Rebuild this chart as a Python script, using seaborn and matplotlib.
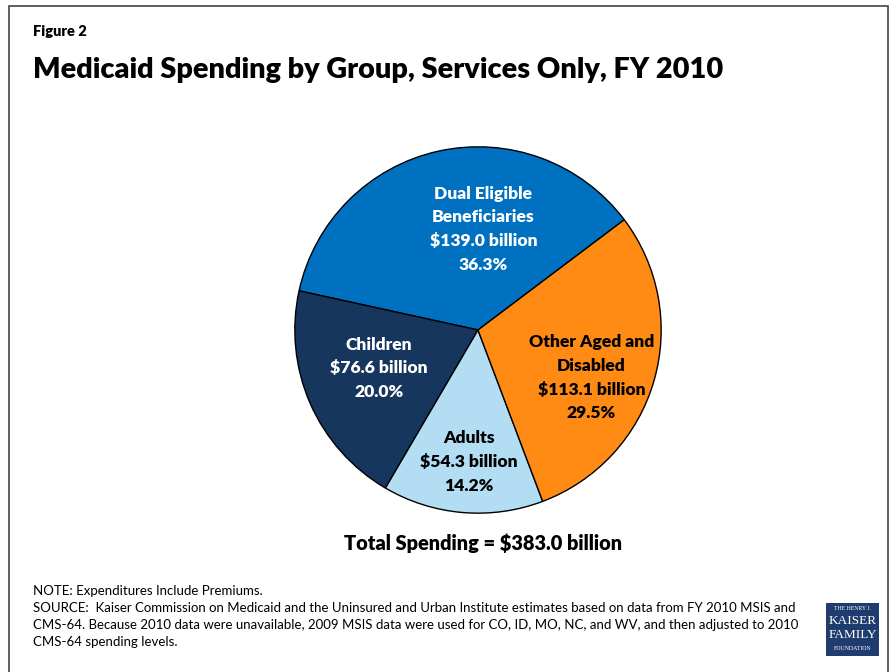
import matplotlib
matplotlib.use("Agg")
import matplotlib.pyplot as plt
from matplotlib.patches import Rectangle
import seaborn as sns

sns.set_theme(style="white")
plt.rcParams["font.family"] = ["Lato", "DejaVu Sans"]
plt.rcParams["text.color"] = "black"

# Spending by eligibility group, FY 2010 (billions of dollars)
groups = ["Dual Eligible\nBeneficiaries", "Children", "Adults", "Other Aged and\nDisabled"]
spending = [139.0, 76.6, 54.3, 113.1]
colors = ["#0070C0", "#17365D", "#B2DDF2", "#FF8A14"]
text_colors = ["white", "white", "black", "black"]
total = 383.0

notes = [
    "NOTE: Expenditures Include Premiums.",
    "SOURCE:  Kaiser Commission on Medicaid and the Uninsured and Urban Institute estimates based on data from FY 2010 MSIS and",
    "CMS-64. Because 2010 data were unavailable, 2009 MSIS data were used for CO, ID, MO, NC, and WV, and then adjusted to 2010",
    "CMS-64 spending levels.",
]

W, H = 891, 672
fig = plt.figure(figsize=(W / 100, H / 100), dpi=100)

# outer frame of the figure panel
fig.add_artist(Rectangle((9 / W, -0.01), (888 - 9) / W, (H - 6) / H + 0.01,
                         transform=fig.transFigure, fill=False,
                         edgecolor="#444444", linewidth=1.2))

fig.text(33 / W, 1 - 32 / H, "Figure 2", fontsize=10.5, fontweight="heavy",
         ha="left", va="center")
fig.text(33 / W, 1 - 70 / H, "Medicaid Spending by Group, Services Only, FY 2010",
         fontsize=20.8, fontweight="heavy", ha="left", va="center")

# pie axes: centre (478, 330) px, radius 185 px
cx, cy, r = 478, 330, 185
ax = fig.add_axes([(cx - r) / W, (H - cy - r) / H, 2 * r / W, 2 * r / H])
wedges, _ = ax.pie(spending, colors=colors, startangle=37, counterclock=True,
                   radius=1.0,
                   wedgeprops=dict(edgecolor="black", linewidth=1.0))
ax.set_xlim(-1.01, 1.01)
ax.set_ylim(-1.01, 1.01)
ax.set_aspect("equal")
ax.axis("off")

label_pos = [(0.03, 0.55), (-0.54, -0.21), (-0.05, -0.72), (0.62, -0.26)]
for name, val, (lx, ly), tc in zip(groups, spending, label_pos, text_colors):
    pct = val / total * 100
    ax.text(lx, ly, f"{name}\n${val:.1f} billion\n{pct:.1f}%", color=tc,
            fontsize=12.6, fontweight="heavy", ha="center", va="center",
            linespacing=1.6)

fig.text(483 / W, 1 - 543 / H, f"Total Spending = ${sum(spending):.1f} billion",
         fontsize=14.4, fontweight="heavy", ha="center", va="center")

for i, line in enumerate(notes):
    fig.text(33 / W, 1 - (591 + 17 * i) / H, line, fontsize=9.5,
             ha="left", va="center")

# foundation logo block
lx0, ly0, lw, lh = 826, 603, 53, 53
fig.add_artist(Rectangle((lx0 / W, 1 - (ly0 + lh) / H), lw / W, lh / H,
                         transform=fig.transFigure, facecolor="#1F3C6E",
                         edgecolor="none"))
logo_lines = [("THE HENRY J.", 4.2, 609), ("KAISER", 9.5, 621),
              ("FAMILY", 9.5, 635), ("FOUNDATION", 4.2, 649)]
for txt, fs, yy in logo_lines:
    fig.text((lx0 + lw / 2) / W, 1 - yy / H, txt, fontsize=fs, color="white",
             family=["Liberation Serif", "DejaVu Serif"],
             ha="center", va="center")

fig.savefig("out.png", dpi=100, facecolor="white")
